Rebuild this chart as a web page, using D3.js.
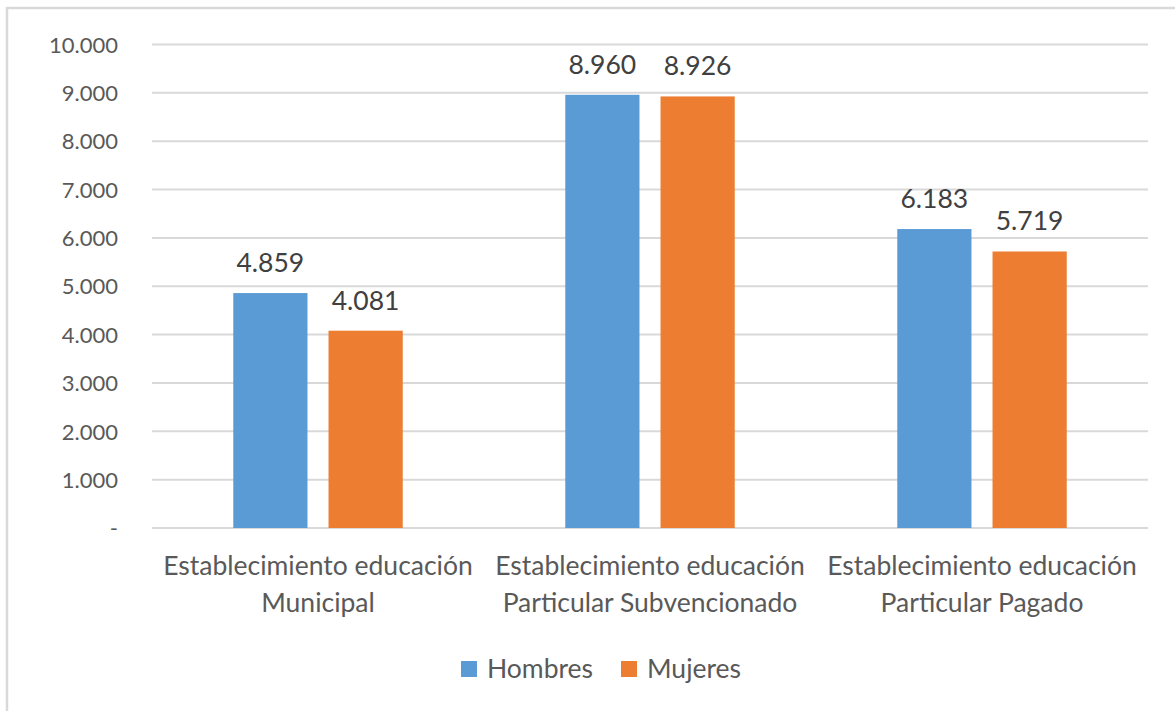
<!DOCTYPE html>
<html><head><meta charset="utf-8">
<script src="https://cdn.jsdelivr.net/npm/d3@7"></script>
<style>body{margin:0;background:#fff;} svg{display:block;}</style>
</head><body>
<svg id="c" width="1175" height="711"></svg>
<script>
const categories = [["Establecimiento educación","Municipal"],["Establecimiento educación","Particular Subvencionado"],["Establecimiento educación","Particular Pagado"]];
const seriesNames = ["Hombres","Mujeres"];
const hombres = [4859, 8960, 6183];
const mujeres = [4081, 8926, 5719];
const yTicks = [0,1000,2000,3000,4000,5000,6000,7000,8000,9000,10000];
const colors = ["#5B9BD5","#ED7D31"];

const FONT = "Lato, 'Open Sans', sans-serif";
const svg = d3.select("#c");
svg.append("rect").attr("x",7).attr("y",8).attr("width",1300).attr("height",900)
  .attr("fill","#fff").attr("stroke","#d9d9d9").attr("stroke-width",2.5);

const left=152, right=1148, y0=528, yTop=44.5;
const x = d3.scaleBand().domain(d3.range(categories.length)).range([left,right]).padding(0);
const xs = d3.scaleBand().domain(seriesNames).range([0,x.bandwidth()]).paddingInner(0.221).paddingOuter(0.853);
const y = d3.scaleLinear().domain([0,10000]).range([y0,yTop]);
const fmt = v => v===0 ? "-" : d3.format(",")(v).replace(/,/g,".");

// grid
svg.append("g").selectAll("line").data(yTicks).join("line")
  .attr("x1",left).attr("x2",right).attr("y1",d=>y(d)).attr("y2",d=>y(d))
  .attr("stroke","#d9d9d9").attr("stroke-width",2);

// y axis labels
const yAxis = d3.axisLeft(y).tickValues(yTicks).tickFormat(fmt).tickSize(0).tickPadding(0);
const ga = svg.append("g").attr("transform",`translate(118,0)`).call(yAxis);
ga.select(".domain").remove();
ga.selectAll("text").attr("font-family",FONT).attr("font-size",22).attr("fill","#595959").attr("dy","0.35em");

const data = categories.map((c,i)=>({i, vals:[hombres[i],mujeres[i]]}));
const g = svg.append("g");
data.forEach(d=>{
  d.vals.forEach((v,j)=>{
    const bx = x(d.i)+xs(seriesNames[j]);
    g.append("rect").attr("x",bx).attr("y",y(v)).attr("width",xs.bandwidth()).attr("height",y0-y(v)).attr("fill",colors[j]);
    g.append("text").attr("x",bx+xs.bandwidth()/2).attr("y",y(v)-21).attr("text-anchor","middle")
      .attr("font-family",FONT).attr("font-size",26.5).attr("fill","#404040").text(fmt(v));
  });
});

// x labels
const xl = svg.append("g");
categories.forEach((c,i)=>{
  const t = xl.append("text").attr("text-anchor","middle").attr("font-family",FONT).attr("font-size",26.5).attr("fill","#595959");
  c.forEach((line,k)=>{
    t.append("tspan").attr("x",x(i)+x.bandwidth()/2).attr("y",575+k*37).text(line);
  });
});

// legend
const legX = [461, 621];
seriesNames.forEach((s,j)=>{
  svg.append("rect").attr("x",legX[j]).attr("y",661).attr("width",16).attr("height",16).attr("fill",colors[j]);
  svg.append("text").attr("x",legX[j]+26).attr("y",678).attr("font-family",FONT).attr("font-size",26.5).attr("fill","#595959").text(s);
});
</script>
</body></html>
